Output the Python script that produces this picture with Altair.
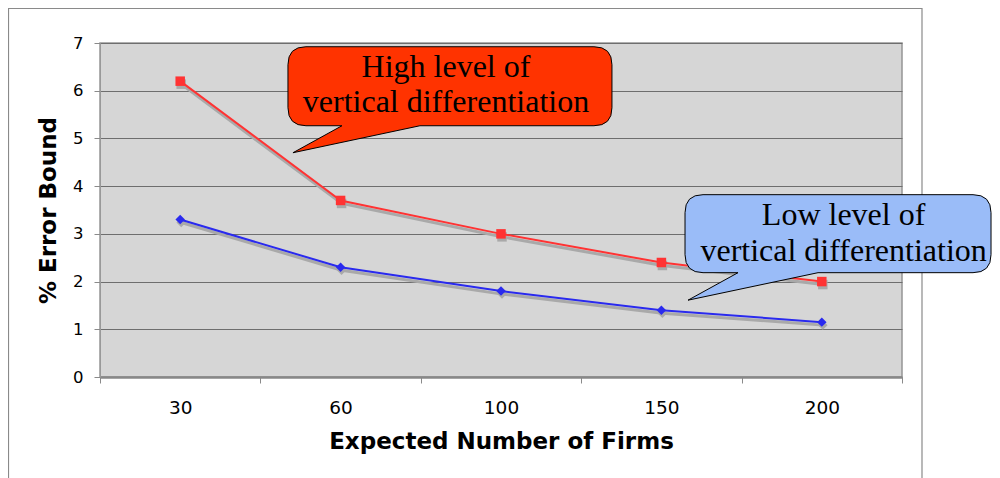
import altair as alt
import pandas as pd

# ---------------- data ----------------
firms = ["30", "60", "100", "150", "200"]
high_vals = [6.2, 3.7, 3.0, 2.4, 2.0]
low_vals = [3.3, 2.3, 1.8, 1.4, 1.15]
y_ticks = [0, 1, 2, 3, 4, 5, 6, 7]

# callouts: tail tip position (x in band-index units 0..5, y in % error units)
callout_tip_x = [1.203, 3.666]
callout_tip_y = [4.70, 1.61]
callout_fill = ["#ff3300", "#9abcf8"]
# callout text lines: position of each line's baseline
text_lines = ["High level of", "vertical differentiation",
              "Low level of", "vertical differentiation"]
text_x = [2.157, 2.157, 4.636, 4.636]
text_y = [6.287, 5.554, 3.179, 2.425]

# ---------------- styles ----------------
W, H = 802, 334
AX_FONT = "DejaVu Sans"
SERIF = "Liberation Serif"


def bubble_path(left, right, top, bottom, tail_a, tail_b, r, unit=100.0):
    def p(v):
        return f"{v / unit:.4f}"
    L, R, T, B = left, right, top, bottom
    return (
        f"M0,0 L{p(tail_a)},{p(B)} L{p(L + r)},{p(B)} "
        f"Q{p(L)},{p(B)} {p(L)},{p(B - r)} L{p(L)},{p(T + r)} "
        f"Q{p(L)},{p(T)} {p(L + r)},{p(T)} L{p(R - r)},{p(T)} "
        f"Q{p(R)},{p(T)} {p(R)},{p(T + r)} L{p(R)},{p(B - r)} "
        f"Q{p(R)},{p(B)} {p(R - r)},{p(B)} L{p(tail_b)},{p(B)} Z"
    )


red_path = bubble_path(-5, 319, -106, -27, 49, 127, 18)
blue_path = bubble_path(-3, 303, -105.5, -27.5, 50, 130, 18)

df_high = pd.DataFrame({"firms": firms, "value": high_vals})
df_low = pd.DataFrame({"firms": firms, "value": low_vals})

x_enc = alt.X(
    "firms:N",
    sort=firms,
    scale=alt.Scale(type="band", paddingInner=0, paddingOuter=0),
    axis=alt.Axis(
        title="Expected Number of Firms",
        tickBand="extent",
        labelAngle=0,
        labelFont=AX_FONT,
        labelFontSize=18.5,
        labelColor="black",
        labelPadding=15,
        titleFont=AX_FONT,
        titleFontSize=23,
        titleFontWeight="bold",
        titleColor="black",
        titlePadding=14,
        tickColor="#8a8a8a",
        tickSize=6,
        domainColor="#888888",
        domainWidth=2.5,
        grid=False,
    ),
)
y_enc = alt.Y(
    "value:Q",
    scale=alt.Scale(domain=[0, 7], nice=False, zero=True),
    axis=alt.Axis(
        values=y_ticks,
        title="% Error Bound",
        labelFont=AX_FONT,
        labelFontSize=16.5,
        labelColor="black",
        labelPadding=11,
        titleFont=AX_FONT,
        titleFontSize=23,
        titleFontWeight="bold",
        titleColor="black",
        titlePadding=12,
        tickColor="#8a8a8a",
        tickSize=6,
        domainColor="#999999",
        grid=True,
        gridColor="#6e6e6e",
        gridWidth=1,
    ),
)


def series_layers(df, color, shape):
    base = alt.Chart(df).encode(x=x_enc, y=y_enc)
    shadow_line = base.mark_line(color="#a9a9a9", strokeWidth=3, xOffset=1, yOffset=3)
    shadow_pts = base.mark_point(shape=shape, size=90, filled=True, color="#a9a9a9",
                                 opacity=1, xOffset=1, yOffset=3)
    line = base.mark_line(color=color, strokeWidth=2)
    pts = base.mark_point(shape=shape, size=90, filled=True, color=color, opacity=1)
    return [shadow_line, shadow_pts, line, pts]


main = alt.layer(
    *series_layers(df_high, "#ff3333", "square"),
    *series_layers(df_low, "#2a2aee", "diamond"),
)

# outer frame (chart-area border)
frame = alt.Chart(pd.DataFrame({"k": [0]})).mark_rect(
    filled=False, stroke="#8a8a8a", strokeWidth=1.2, fill="transparent"
).encode(
    x=alt.value(-91.5), x2=alt.value(822), y=alt.value(-34.5), y2=alt.value(520)
)

ax_scale = alt.Scale(domain=[0, 5], nice=False, zero=False)
ay_scale = alt.Scale(domain=[0, 7], nice=False, zero=True)

df_red_tip = pd.DataFrame({"tx": [callout_tip_x[0]], "ty": [callout_tip_y[0]]})
df_blue_tip = pd.DataFrame({"tx": [callout_tip_x[1]], "ty": [callout_tip_y[1]]})

red_bubble = alt.Chart(df_red_tip).mark_point(
    shape=red_path, size=40000, filled=True, fill=callout_fill[0], stroke="black",
    strokeWidth=1, opacity=1, fillOpacity=1, strokeOpacity=1
).encode(
    x=alt.X("tx:Q", scale=ax_scale, axis=None),
    y=alt.Y("ty:Q", scale=ay_scale, axis=None),
)
blue_bubble = alt.Chart(df_blue_tip).mark_point(
    shape=blue_path, size=40000, filled=True, fill=callout_fill[1], stroke="black",
    strokeWidth=1, opacity=1, fillOpacity=1, strokeOpacity=1
).encode(
    x=alt.X("tx:Q", scale=ax_scale, axis=None),
    y=alt.Y("ty:Q", scale=ay_scale, axis=None),
)

df_text = pd.DataFrame({"tx": text_x, "ty": text_y, "label": text_lines})
texts = alt.Chart(df_text).mark_text(
    font=SERIF, fontSize=32, color="black", align="center", baseline="alphabetic"
).encode(
    x=alt.X("tx:Q", scale=ax_scale, axis=None),
    y=alt.Y("ty:Q", scale=ay_scale, axis=None),
    text="label:N",
)

annot = alt.layer(red_bubble, blue_bubble, texts)

chart = alt.layer(frame, main, annot).resolve_scale(
    x="independent", y="independent"
).properties(
    width=W,
    height=H,
    autosize=alt.AutoSizeParams(type="none"),
    padding={"left": 92, "top": 35, "right": 90, "bottom": 101},
    background="white",
).configure_view(
    fill="#d6d6d6", stroke="#959595", strokeWidth=1.5
)

chart.save("out.html", embed_options={"renderer": "svg", "actions": False})
